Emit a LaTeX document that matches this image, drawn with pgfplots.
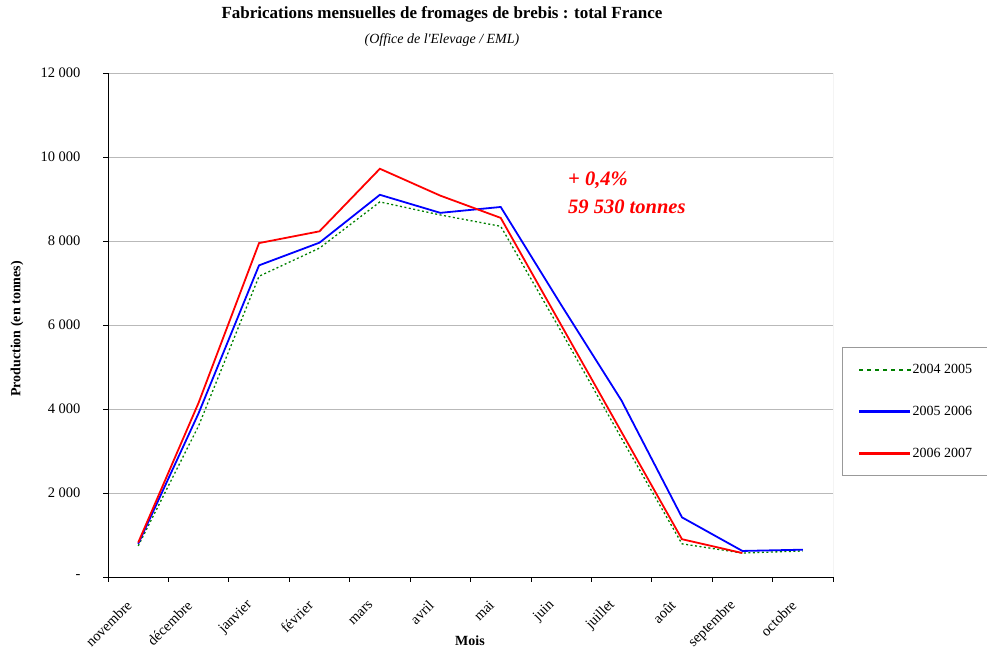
\documentclass[border=0pt]{standalone}
\usepackage{fontspec}
\setmainfont{Liberation Serif}
\usepackage{pgfplots}
\pgfplotsset{compat=1.18}
\definecolor{dgreen}{RGB}{0,128,0}
\definecolor{pblue}{RGB}{0,0,255}
\definecolor{pred}{RGB}{255,0,0}
\begin{document}
\begin{tikzpicture}
\path[use as bounding box] (0,0) rectangle (987pt,652pt);
\begin{axis}[
  at={(108pt,75pt)}, anchor=south west,
  scale only axis, width=725pt, height=504pt,
  xmin=-0.5, xmax=11.5, ymin=0, ymax=12000,
  scaled y ticks=false,
  axis lines*=left,
  axis line style={black, line width=0.9pt},
  tick align=outside,
  major tick length=5pt,
  tick style={black, line width=0.8pt},
  xtick={-0.5,0.5,...,11.5},
  xticklabels={},
  extra x ticks={0,1,2,3,4,5,6,7,8,9,10,11},
  extra x tick labels={novembre,décembre,janvier,février,mars,avril,mai,juin,juillet,août,septembre,octobre},
  extra x tick style={major tick length=0pt, grid=none,
     xticklabel style={xshift=-6.5pt, yshift=-23.5pt, rotate=45, anchor=east}},
  ytick={0,2000,4000,6000,8000,10000,12000},
  yticklabels={-,2 000,4 000,6 000,8 000,10 000,12 000},
  yticklabel style={xshift=-19pt},
  ticklabel style={font=\fontsize{14.5}{16}\selectfont},
  ymajorgrids,
  grid style={gray!55, line width=0.7pt},
  legend style={at={(axis description cs:1.0124,0.4563)}, anchor=north west,
     draw=gray!80, inner xsep=17pt, inner ysep=15pt,
     row sep=27pt, font=\fontsize{14}{16}\selectfont, nodes={inner sep=2pt}},
  legend cell align=left,
]
\addlegendimage{legend image code/.code={\foreach \i in {0,8,...,48} {\fill[dgreen] (\i pt,-0.7pt) rectangle ++(3pt,1.4pt);}}}
\addlegendentry{2004 2005}
\addlegendimage{legend image code/.code={\fill[pblue] (0pt,-0.95pt) rectangle (50pt,0.95pt);}}
\addlegendentry{2005 2006}
\addlegendimage{legend image code/.code={\fill[pred] (0pt,-0.95pt) rectangle (50pt,0.95pt);}}
\addlegendentry{2006 2007}
\addplot[forget plot, color=dgreen, line width=1.3pt, dash pattern=on 2pt off 2.5pt] coordinates {
 (0,740) (1,3600) (2,7160) (3,7830) (4,8930) (5,8620) (6,8350) (7,5850) (8,3300) (9,790) (10,570) (11,620)};
\addplot[forget plot, color=pblue, line width=1.8pt] coordinates {
 (0,790) (1,3900) (2,7420) (3,7960) (4,9100) (5,8670) (6,8810) (7,6480) (8,4200) (9,1420) (10,620) (11,650)};
\addplot[forget plot, color=pred, line width=1.8pt] coordinates {
 (0,820) (1,4150) (2,7950) (3,8230) (4,9720) (5,9080) (6,8550) (7,6000) (8,3450) (9,900) (10,570)};
\draw[gray!70, line width=0.8pt] (rel axis cs:1,0) -- (rel axis cs:1,1);
\node[anchor=west, inner sep=0pt, text=pred, font=\fontsize{20.5}{22}\selectfont\bfseries\itshape] at (rel axis cs:0.6345,0.788) {+ 0,4\%};
\node[anchor=west, inner sep=0pt, text=pred, font=\fontsize{20.5}{22}\selectfont\bfseries\itshape] at (rel axis cs:0.6345,0.734) {59 530 tonnes};
\end{axis}
\node[font=\fontsize{17}{19}\selectfont\bfseries] at (442pt,638pt) {Fabrications mensuelles de fromages de brebis : total France};
\node[font=\fontsize{14}{16}\selectfont\itshape] at (442pt,612pt) {(Office de l\textquotesingle Elevage / EML)};
\node[rotate=90, font=\fontsize{14}{16}\selectfont\bfseries] at (17pt,323pt) {Production (en tonnes)};
\node[font=\fontsize{14}{16}\selectfont\bfseries] at (470pt,11pt) {Mois};
\end{tikzpicture}
\end{document}
